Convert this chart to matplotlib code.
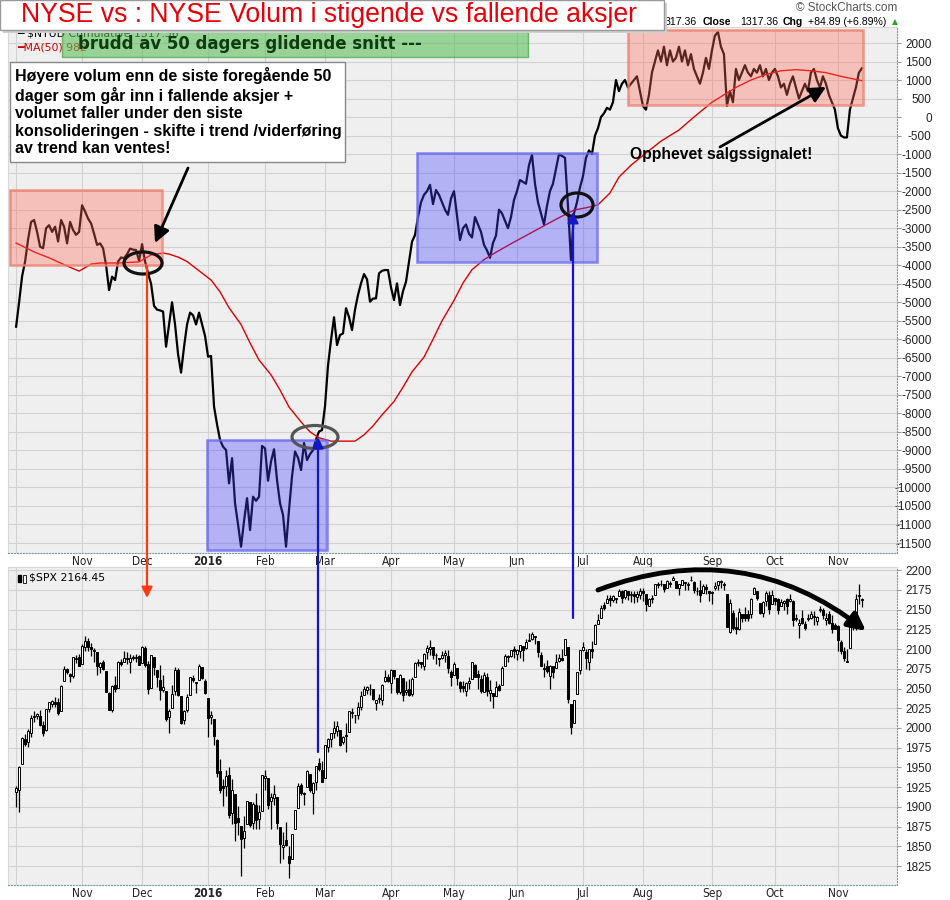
import numpy as np
import pandas as pd
import matplotlib
matplotlib.use('Agg')
import matplotlib.pyplot as plt
import matplotlib.font_manager as fm
from matplotlib.patches import Rectangle, Ellipse, FancyArrowPatch

plt.rcParams['font.family'] = ['Liberation Sans', 'DejaVu Sans']


# look for a condensed / narrow face (StockCharts uses Arial Narrow-like labels)
def find_narrow(bold):
    found = []
    for f in fm.fontManager.ttflist:
        narrow = 'Narrow' in f.name or 'Condensed' in f.name or f.stretch in ('condensed', 'semi-condensed')
        if not narrow or f.style != 'normal':
            continue
        w = f.weight
        is_bold = ('bold' in w.lower()) if isinstance(w, str) else w >= 600
        if is_bold == bold:
            found.append(f)
    found.sort(key=lambda f: (0 if 'Liberation' in f.name else 1 if 'DejaVu' in f.name else 2, f.fname))
    return fm.FontProperties(fname=found[0].fname) if found else None


narrow_reg = find_narrow(False)
narrow_bold = find_narrow(True)

# trading days shown: 1 Oct 2015 - 11 Nov 2016 (NYSE holidays removed)
holidays = ['2015-11-26', '2015-12-25', '2016-01-01', '2016-01-18', '2016-02-15',
            '2016-03-25', '2016-05-30', '2016-07-04', '2016-09-05']
dates = pd.bdate_range('2015-10-01', '2016-11-11', freq='C', holidays=holidays)

# $NYUD cumulative
nyud = [
    -5660, -5000, -4300, -3900, -3300, -2830, -2780, -3100, -3500, -3540,
    -3000, -2920, -3100, -2960, -3360, -2780, -2960, -3410, -2830, -3050,
    -3180, -3100, -2380, -2550, -2740, -2870, -3150, -3450, -3410, -3540,
    -4000, -4670, -4310, -4400, -3900, -3790, -3810, -3700, -3550, -3580,
    -3590, -3880, -3430, -3900, -4220, -4500, -5100, -5200, -5220, -5250,
    -6200, -5600, -5000, -5600, -6400, -6900, -6200, -5600, -5280, -5350,
    -5600, -5280, -5600, -5910, -6470, -6450, -7820, -8300, -8720, -8900,
    -8990, -9890, -9210, -10430, -11000, -11600, -10900, -10290, -11150, -10250,
    -10360, -10250, -8880, -8945, -9820, -9300, -8970, -9800, -10430, -10745,
    -11600, -10600, -9700, -9030, -9200, -9530, -8800, -9260, -9100, -8990,
    -8700, -8490, -8450, -7800, -6700, -6020, -5405, -6155, -5885, -5840,
    -5160, -5400, -5750, -5200, -4800, -4490, -4240, -4380, -4985, -4900,
    -4895, -4220, -4150, -4130, -4130, -4600, -4940, -4490, -5075, -4700,
    -4445, -3900, -3365, -3185, -2700, -2300, -2100, -2000, -1830, -2350,
    -1970, -2100, -2300, -2500, -2640, -2200, -2000, -2650, -3320, -3000,
    -2900, -3150, -3250, -2700, -2900, -3100, -3450, -3600, -3800, -3400,
    -3200, -2500, -2600, -2800, -3000, -2700, -2240, -2000, -1700, -1750,
    -1800, -1300, -1020, -1800, -2300, -2600, -2900, -2400, -2000, -1800,
    -1400, -1000, -1050, -1100, -2400, -3860, -2600, -2300, -1900, -1600,
    -1100, -900, -1000, -500, -300, 0, 100, 250, 200, 400,
    1000, 700, 900, 1000, 800, 900, 1000, 1100, 700, 300,
    200, 600, 1200, 1500, 1800, 1500, 1900, 1400, 1800, 1500,
    1600, 1900, 1500, 1800, 1400, 1700, 1300, 1100, 900, 1200,
    1600, 1300, 1800, 2200, 2300, 1900, 1700, 300, 700, 400,
    1300, 1000, 1200, 1400, 1200, 1100, 1300, 1200, 1400, 1100,
    1300, 1000, 1200, 1300, 1100, 800, 900, 600, 900, 1100,
    800, 500, 700, 900, 700, 1200, 1300, 1000, 800, 1100,
    900, 600, 400, 200, -300, -500, -550, -550, 200, 500,
    800, 1200, 1317,
]

# MA(50) of $NYUD, read at trading-day positions along the red line
ma50_idx = [0, 6, 11, 17, 21, 25, 28, 34, 41, 45, 49, 51, 54, 57, 61, 65, 68, 71,
            75, 78, 81, 85, 88, 91, 95, 98, 101, 105, 113, 116, 119, 122, 126, 129,
            132, 136, 139, 142, 146, 149, 152, 156, 160, 165, 170, 175, 180, 186,
            190, 194, 198, 201, 205, 210, 215, 221, 226, 232, 236, 240, 245, 250,
            255, 260, 265, 270, 275, 282]
ma50 = [-3400, -3640, -3800, -4020, -4160, -3970, -3940, -3940, -3910, -3720, -3670,
        -3700, -3780, -3900, -4150, -4400, -4720, -5150, -5600, -6100, -6560, -6960,
        -7370, -7830, -8230, -8500, -8660, -8750, -8750, -8580, -8340, -8040, -7680,
        -7290, -6880, -6480, -6000, -5500, -4950, -4480, -4120, -3850, -3650, -3420,
        -3200, -2980, -2760, -2510, -2450, -2370, -2050, -1620, -1300, -970, -650,
        -350, 0, 400, 600, 800, 1000, 1150, 1250, 1280, 1250, 1200, 1100, 982]

# $SPX daily candles
spx_open = [
    1919, 1921, 1954, 1986, 1982, 1994, 2014, 2015, 2015, 2004, 1997, 2024, 2031, 2033, 2033, 2021, 2059, 2075, 2068, 2066, 2088, 2090,
    2081, 2102, 2110, 2102, 2098, 2096, 2077, 2084, 2072, 2044, 2023, 2054, 2051, 2084, 2083, 2089, 2084, 2090, 2089, 2091,
    2082, 2101, 2081, 2051, 2090, 2073, 2061, 2048, 2047, 2014, 2025, 2047, 2074, 2041, 2010, 2023, 2042, 2063, 2058, 2061, 2077, 2060,
    2038, 2014, 2011, 1985, 1946, 1927, 1927, 1941, 1892, 1916, 1886, 1876, 1861, 1878, 1906, 1879, 1903, 1885, 1895,
    1936, 1936, 1907, 1911, 1913, 1874, 1849, 1858, 1838, 1834, 1872, 1898, 1928, 1916, 1925, 1942, 1917, 1932, 1955, 1947,
    1937, 1976, 1986, 1994, 1996, 1997, 1982, 1991, 1995, 2019, 2016, 2016, 2027, 2042, 2048, 2049, 2049, 2032, 2037, 2035, 2059, 2064,
    2057, 2073, 2063, 2046, 2063, 2046, 2050, 2043, 2065, 2082, 2083, 2078, 2096, 2100, 2102, 2092, 2089, 2089, 2092, 2091, 2071,
    2067, 2076, 2058, 2053, 2047, 2057, 2062, 2080, 2068, 2062, 2046, 2065, 2044, 2044, 2041, 2053, 2054, 2079, 2091, 2091, 2100,
    2094, 2097, 2104, 2101, 2110, 2113, 2115, 2110, 2092, 2076, 2078, 2066, 2078, 2076, 2085, 2089, 2092, 2103, 2031, 2006, 2043, 2073,
    2099, 2096, 2084, 2100, 2106, 2132, 2140, 2156, 2158, 2165, 2162, 2164, 2167, 2173, 2166, 2173, 2169, 2170, 2166, 2169,
    2173, 2170, 2155, 2164, 2169, 2183, 2182, 2182, 2178, 2183, 2187, 2186, 2177, 2181, 2185, 2181, 2187, 2185, 2173, 2175, 2171, 2179, 2173,
    2171, 2177, 2181, 2185, 2183, 2170, 2121, 2146, 2128, 2125, 2144, 2144, 2145, 2144, 2170, 2174, 2159, 2146, 2161, 2169, 2157,
    2165, 2163, 2155, 2158, 2164, 2161, 2161, 2138, 2131, 2140, 2132, 2138, 2140, 2142, 2136, 2149, 2149, 2137, 2144, 2133, 2130,
    2129, 2109, 2098, 2084, 2101, 2132, 2131, 2168, 2162,
]
spx_high = [
    1927, 1952, 1989, 1992, 1999, 2017, 2021, 2019, 2023, 2009, 2024, 2033, 2035, 2039, 2038, 2055, 2079, 2076, 2070, 2090, 2093, 2094,
    2106, 2116, 2114, 2108, 2101, 2096, 2084, 2086, 2072, 2045, 2054, 2066, 2085, 2087, 2097, 2096, 2094, 2093, 2094, 2093,
    2104, 2104, 2085, 2093, 2090, 2073, 2080, 2067, 2047, 2024, 2054, 2077, 2076, 2041, 2023, 2043, 2065, 2067, 2058, 2081, 2077, 2062,
    2038, 2022, 2011, 1986, 1961, 1935, 1947, 1950, 1935, 1916, 1901, 1876, 1889, 1908, 1906, 1906, 1917, 1902, 1940,
    1947, 1936, 1918, 1928, 1913, 1874, 1868, 1881, 1850, 1865, 1896, 1930, 1930, 1919, 1947, 1942, 1932, 1952, 1962, 1958,
    1978, 1987, 1993, 2009, 2009, 1997, 1990, 2006, 2022, 2025, 2016, 2033, 2047, 2053, 2053, 2056, 2049, 2036, 2043, 2056, 2073, 2068,
    2075, 2074, 2063, 2068, 2063, 2060, 2062, 2065, 2084, 2087, 2084, 2095, 2105, 2111, 2103, 2095, 2089, 2097, 2099, 2099, 2074,
    2084, 2076, 2060, 2060, 2058, 2065, 2084, 2081, 2073, 2067, 2071, 2070, 2061, 2044, 2059, 2056, 2079, 2094, 2093, 2099, 2104,
    2100, 2105, 2104, 2113, 2120, 2121, 2117, 2110, 2096, 2082, 2086, 2080, 2078, 2094, 2094, 2100, 2113, 2103, 2031, 2036, 2071, 2099,
    2109, 2100, 2100, 2110, 2132, 2144, 2156, 2160, 2169, 2169, 2169, 2165, 2176, 2175, 2175, 2173, 2174, 2174, 2173, 2178,
    2178, 2170, 2165, 2168, 2183, 2185, 2187, 2183, 2188, 2186, 2193, 2186, 2183, 2188, 2185, 2185, 2193, 2186, 2179, 2187, 2183, 2183, 2174,
    2173, 2185, 2186, 2188, 2185, 2170, 2164, 2149, 2141, 2152, 2144, 2153, 2150, 2165, 2179, 2174, 2159, 2161, 2173, 2173, 2175,
    2165, 2165, 2164, 2162, 2165, 2170, 2162, 2144, 2138, 2149, 2135, 2145, 2148, 2148, 2142, 2154, 2152, 2146, 2148, 2143, 2133,
    2131, 2112, 2102, 2100, 2133, 2146, 2170, 2183, 2165,
]
spx_low = [
    1900, 1893, 1954, 1977, 1976, 1988, 2008, 2012, 2002, 1990, 1996, 2020, 2026, 2027, 2017, 2021, 2059, 2069, 2058, 2063, 2082, 2079,
    2081, 2097, 2097, 2091, 2084, 2067, 2070, 2074, 2045, 2023, 2020, 2046, 2051, 2078, 2083, 2081, 2070, 2086, 2084, 2080,
    2082, 2077, 2043, 2051, 2067, 2052, 2036, 2045, 2009, 1993, 2025, 2042, 2041, 2005, 2005, 2020, 2042, 2058, 2044, 2061, 2062, 2043,
    1989, 2005, 1979, 1938, 1918, 1901, 1914, 1886, 1878, 1857, 1864, 1812, 1848, 1878, 1875, 1872, 1872, 1872, 1895,
    1921, 1897, 1872, 1903, 1872, 1829, 1834, 1850, 1810, 1834, 1872, 1898, 1915, 1902, 1925, 1919, 1891, 1922, 1946, 1932,
    1937, 1969, 1976, 1987, 1990, 1977, 1980, 1969, 1995, 2013, 2006, 2011, 2023, 2042, 2043, 2042, 2035, 2023, 2032, 2029, 2058, 2058,
    2044, 2062, 2043, 2043, 2034, 2042, 2041, 2040, 2065, 2078, 2076, 2074, 2088, 2093, 2088, 2081, 2078, 2087, 2084, 2070, 2053,
    2067, 2054, 2045, 2046, 2040, 2049, 2062, 2064, 2050, 2044, 2046, 2040, 2034, 2025, 2041, 2047, 2054, 2079, 2084, 2090, 2089,
    2086, 2089, 2085, 2100, 2110, 2112, 2106, 2090, 2078, 2064, 2070, 2050, 2063, 2076, 2083, 2085, 2092, 2032, 1992, 2006, 2043, 2068,
    2097, 2075, 2074, 2089, 2106, 2132, 2140, 2150, 2158, 2155, 2160, 2159, 2167, 2159, 2163, 2162, 2160, 2159, 2160, 2164,
    2161, 2148, 2154, 2159, 2169, 2177, 2180, 2172, 2178, 2179, 2187, 2178, 2169, 2181, 2175, 2175, 2186, 2171, 2169, 2160, 2171, 2170, 2161,
    2157, 2175, 2175, 2178, 2175, 2128, 2120, 2124, 2119, 2124, 2134, 2136, 2136, 2139, 2170, 2162, 2145, 2141, 2155, 2145, 2157,
    2156, 2145, 2155, 2150, 2144, 2160, 2129, 2135, 2114, 2132, 2124, 2135, 2138, 2131, 2130, 2147, 2138, 2131, 2132, 2120, 2125,
    2097, 2094, 2085, 2083, 2101, 2124, 2124, 2157, 2153,
]
spx_close = [
    1924, 1951, 1987, 1980, 1996, 2013, 2015, 2018, 2004, 1994, 2024, 2033, 2034, 2031, 2019, 2053, 2075, 2071, 2066, 2090, 2089, 2079,
    2104, 2110, 2102, 2100, 2099, 2079, 2082, 2075, 2046, 2023, 2053, 2050, 2084, 2081, 2089, 2087, 2089, 2089, 2090, 2080,
    2103, 2080, 2050, 2092, 2077, 2064, 2048, 2052, 2012, 2022, 2043, 2073, 2042, 2006, 2021, 2039, 2064, 2061, 2057, 2078, 2063, 2044,
    2013, 2017, 1990, 1943, 1922, 1924, 1939, 1890, 1922, 1880, 1881, 1859, 1869, 1907, 1877, 1904, 1883, 1893, 1940,
    1939, 1903, 1913, 1916, 1880, 1853, 1852, 1852, 1829, 1865, 1896, 1927, 1918, 1918, 1946, 1921, 1930, 1952, 1948, 1932,
    1978, 1986, 1993, 2000, 2002, 1979, 1989, 1990, 2022, 2020, 2016, 2027, 2041, 2050, 2052, 2050, 2037, 2036, 2037, 2055, 2064, 2060,
    2073, 2066, 2045, 2067, 2042, 2048, 2042, 2062, 2082, 2083, 2081, 2094, 2101, 2102, 2092, 2092, 2088, 2092, 2095, 2076, 2065,
    2081, 2063, 2051, 2051, 2057, 2059, 2084, 2065, 2064, 2047, 2067, 2047, 2048, 2040, 2052, 2048, 2076, 2091, 2090, 2099, 2097,
    2099, 2105, 2099, 2109, 2112, 2119, 2116, 2096, 2079, 2075, 2072, 2078, 2071, 2083, 2089, 2086, 2113, 2037, 2001, 2036, 2071, 2099,
    2103, 2089, 2100, 2098, 2130, 2137, 2152, 2152, 2164, 2162, 2167, 2164, 2173, 2165, 2175, 2169, 2169, 2167, 2170, 2174,
    2171, 2157, 2164, 2164, 2183, 2181, 2182, 2176, 2186, 2184, 2190, 2178, 2182, 2187, 2184, 2183, 2187, 2175, 2173, 2169, 2180, 2176, 2171,
    2171, 2180, 2186, 2186, 2181, 2128, 2159, 2127, 2126, 2147, 2139, 2139, 2140, 2163, 2177, 2165, 2146, 2160, 2171, 2151, 2168,
    2161, 2150, 2160, 2161, 2154, 2164, 2137, 2139, 2133, 2133, 2127, 2140, 2144, 2141, 2141, 2151, 2143, 2139, 2133, 2126, 2126,
    2112, 2098, 2089, 2085, 2132, 2140, 2163, 2167, 2164,
]

W, H = 950, 900
fig = plt.figure(figsize=(9.5, 9), dpi=100)
T = fig.transFigure


def fx(x):
    return x / W


def fy(y):
    return 1 - y / H


ax1 = fig.add_axes([fx(8), fy(553), (897 - 8) / W, (553 - 27) / H])
ax2 = fig.add_axes([fx(8), fy(885), (897 - 8) / W, (885 - 567) / H])

n = len(dates)
idx = np.arange(n)
month_pos = [i for i in range(1, n) if dates[i].month != dates[i - 1].month]
month_lab = [str(dates[i].year) if dates[i].month == 1 else dates[i].strftime('%b') for i in month_pos]


def style(ax, yticks, ylim):
    ax.set_facecolor('#efefef')
    ax.set_xlim(-2.7, 293.7)
    ax.set_ylim(*ylim)
    ax.set_yticks(yticks)
    ax.set_yticklabels([str(int(v)) for v in yticks])
    ax.yaxis.tick_right()
    ax.tick_params(axis='y', length=3, color='#999999', labelsize=8.5, pad=22, labelcolor='#222222')
    for lab in ax.get_yticklabels():
        lab.set_ha('right')
    ax.set_xticks(month_pos)
    ax.set_xticklabels(month_lab)
    ax.tick_params(axis='x', length=0, pad=1.5, labelcolor='#222222')
    for lab in ax.get_xticklabels():
        if narrow_reg is not None:
            lab.set_fontproperties(narrow_bold if (lab.get_text() == '2016' and narrow_bold) else narrow_reg)
        if lab.get_text() == '2016':
            lab.set_weight('bold')
        lab.set_fontsize(8.5 if narrow_reg is not None else 8)
    ax.grid(True, color='#d2d2d2', lw=0.8)
    ax.axvline(0, color='#d2d2d2', lw=0.8, zorder=0)
    ax.set_axisbelow(True)
    for s in ['left', 'top']:
        ax.spines[s].set_color('#d8d8d8')
    for s in ['right', 'bottom']:
        ax.spines[s].set_color('#7a9a9a')
        ax.spines[s].set_linestyle(':')


style(ax1, np.arange(-11500, 2001, 500), (-11770, 2432))
style(ax2, np.arange(1825, 2201, 25), (1801, 2204))

# top: cumulative line + MA(50)
ax1.plot(idx, nyud, color='black', lw=1.6, zorder=3)
ax1.plot(ma50_idx, ma50, color='#e00000', lw=1.0, zorder=3)

# bottom: candlesticks
o, h, l, c = (np.array(a, dtype=float) for a in (spx_open, spx_high, spx_low, spx_close))
up = c >= o
ax2.vlines(idx, l, h, color='black', lw=0.9, zorder=3)
body_b = np.minimum(o, c)
body_h = np.maximum(np.abs(c - o), 0.8)
ax2.bar(idx[up], body_h[up], bottom=body_b[up], width=0.75, color='white', edgecolor='black', lw=0.7, zorder=4)
ax2.bar(idx[~up], body_h[~up], bottom=body_b[~up], width=0.75, color='black', edgecolor='black', lw=0.7, zorder=4)

# panel headers
leg = dict(fontsize=7.8, family='DejaVu Sans', va='center', zorder=5)
fig.text(fx(17), fy(34), '━ $NYUD Cumulative 1317.36', **leg)
fig.text(fx(17), fy(47), '━MA(50) 982', color='#d00000', **leg)
fig.text(fx(29), fy(578), '$SPX 2164.45', **leg)
fig.add_artist(Rectangle((fx(18), fy(582)), 3 / W, 7 / H, transform=T, color='black', zorder=5))
fig.add_artist(Rectangle((fx(23), fy(583)), 3 / W, 8 / H, transform=T, fc='white', ec='black', lw=0.6, zorder=5))

fig.text(fx(897), fy(8), '© StockCharts.com', fontsize=8.5, color='#555555', ha='right', va='center')
hdr = dict(fontsize=7.6, va='center')
fig.text(fx(665), fy(22), '317.36', **hdr)
fig.text(fx(703), fy(22), 'Close', weight='bold', **hdr)
fig.text(fx(740), fy(22), '1317.36', **hdr)
fig.text(fx(783), fy(22), 'Chg', weight='bold', **hdr)
fig.text(fx(808), fy(22), '+84.89 (+6.89%)', **hdr)
fig.text(fx(898), fy(22), '▲', fontsize=5.5, color='#22aa22', va='center', ha='right', family='DejaVu Sans')

# title box
fig.add_artist(Rectangle((fx(3), fy(33)), fx(664), 30 / H, transform=T, fc='#cfcfcf', ec='none', zorder=9))
fig.add_artist(Rectangle((0, fy(30)), fx(664), 30 / H, transform=T, fc='white', ec='#999999', lw=1, zorder=10))
fig.text(fx(21), fy(15), 'NYSE vs : NYSE Volum i stigende vs fallende aksjer', color='#e8000b',
         fontsize=19.2, va='center', zorder=11)

# green note
fig.add_artist(Rectangle((fx(62), fy(57)), (528 - 62) / W, 27 / H, transform=T, fc='#5cbf5c', alpha=0.6,
                         ec='#2e9a2e', lw=1, zorder=6))
if narrow_bold is not None:
    fig.text(fx(78), fy(44), 'brudd av 50 dagers glidende snitt ---', color='#0d3d0d', fontproperties=narrow_bold,
             fontsize=13.2, va='center', zorder=7)
else:
    fig.text(fx(78), fy(44), 'brudd av 50 dagers glidende snitt ---', color='#0d3d0d', fontsize=12.5,
             weight='bold', va='center', zorder=7)

# white explanation box
fig.add_artist(Rectangle((fx(10), fy(162)), (345 - 10) / W, 100 / H, transform=T, fc='white', ec='#888888',
                         lw=1, zorder=10))
fig.text(fx(15), fy(67), 'Høyere volum enn de siste foregående 50\ndager som går inn i fallende aksjer +\n'
         'volumet faller under den siste\nkonsolideringen - skifte i trend /viderføring\nav trend kan ventes!',
         fontsize=11.5, weight='bold', va='top', linespacing=1.2, zorder=11)

# highlight boxes
for (x0, y0, x1, y1), fc, ec in [((10, 190, 162, 265), '#ff6a55', '#ee8070'),
                                 ((628, 30, 863, 105), '#ff6a55', '#ee8070'),
                                 ((207, 440, 327, 550), '#4040ff', '#6a6aee'),
                                 ((417, 153, 597, 262), '#4040ff', '#6a6aee')]:
    fig.add_artist(Rectangle((fx(x0), fy(y1)), (x1 - x0) / W, (y1 - y0) / H, transform=T, fc=fc, alpha=0.35,
                             ec='none', zorder=4))
    fig.add_artist(Rectangle((fx(x0), fy(y1)), (x1 - x0) / W, (y1 - y0) / H, transform=T, fc='none',
                             ec=ec, lw=1.8, alpha=0.8, zorder=4))

# ellipses at crossings
for (cx, cy, w, hh), col in [((143, 263, 38, 22), '#111111'),
                             ((315, 437, 46, 23), '#555555'),
                             ((577, 205, 32, 24), '#111111')]:
    fig.add_artist(Ellipse((fx(cx), fy(cy)), w / W, hh / H, transform=T, fc='none', ec=col, lw=2.3, zorder=8))


# arrows
def arrow(p0, p1, col, lw, ms, rad=0.0):
    fig.add_artist(FancyArrowPatch((fx(p0[0]), fy(p0[1])), (fx(p1[0]), fy(p1[1])), transform=T,
                                   arrowstyle='-|>', mutation_scale=ms, lw=lw, color=col,
                                   shrinkA=0, shrinkB=0, connectionstyle=f'arc3,rad={rad}', zorder=9))


arrow((147, 266), (147, 598), '#ff3a10', 1.6, 16)
arrow((318, 752), (318, 437), '#1414c8', 1.6, 16)
arrow((573, 618), (573, 212), '#1414c8', 1.6, 16)
arrow((188, 168), (155, 243), 'black', 2.0, 24)
arrow((720, 147), (826, 87), 'black', 2.0, 24)
arrow((598, 590), (866, 631), 'black', 3.5, 26, rad=-0.28)

fig.text(fx(630), fy(155), 'Opphevet salgssignalet!', fontsize=11.3, weight='bold', va='center', zorder=11)

fig.savefig('out.png', dpi=100)
